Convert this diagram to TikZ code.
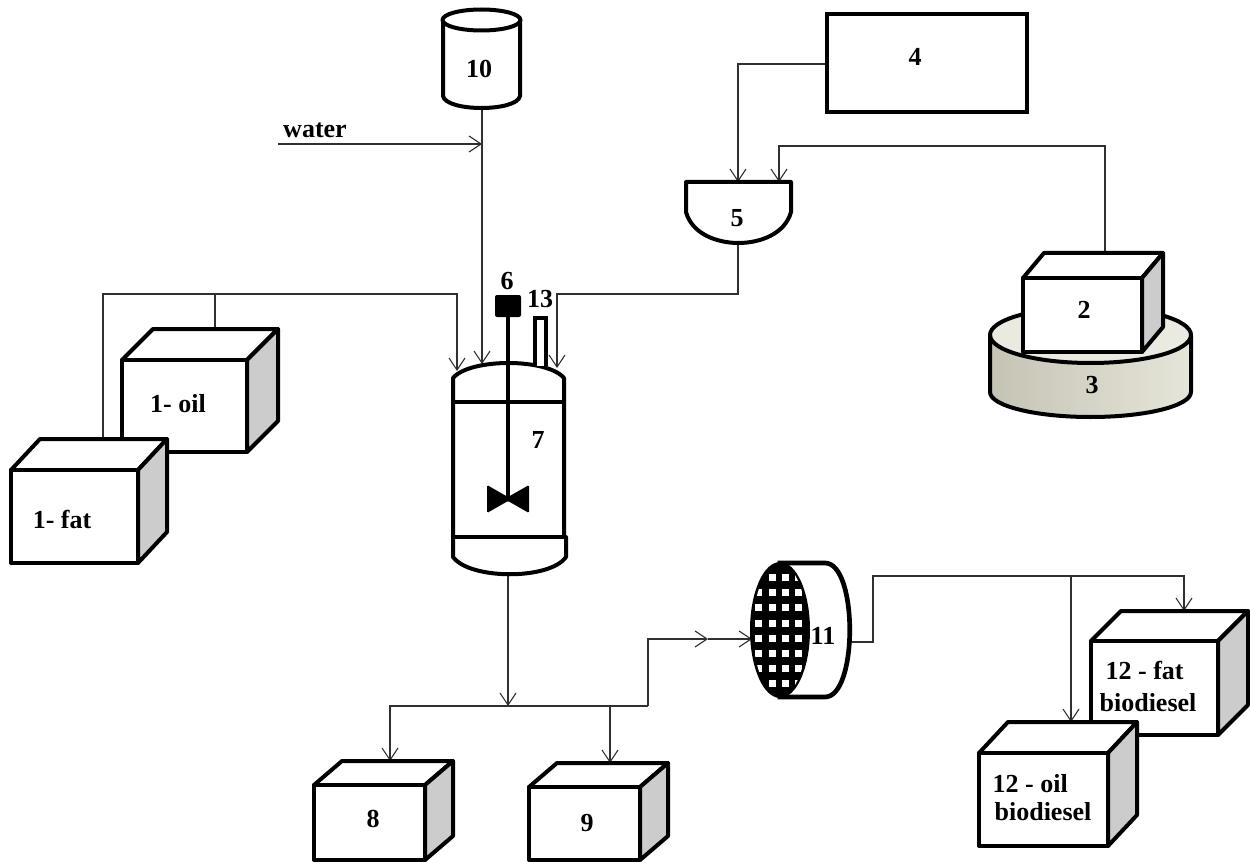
\documentclass[tikz,border=0pt]{standalone}
\usepackage{fontspec}
\setmainfont{Liberation Serif}
\usetikzlibrary{arrows.meta}
\definecolor{sidegray}{HTML}{CCCCCC}
\definecolor{diskA}{HTML}{C4C3B4}
\definecolor{diskB}{HTML}{E6E5D9}
\definecolor{wirecol}{HTML}{303030}
\tikzset{
  x=0.75pt,y=-0.75pt,
  heavy/.style={line width=3pt,line join=round,draw=black},
  wire/.style={line width=0.8pt,draw=wirecol},
  flow/.style={wire,-{Straight Barb[length=9pt,width=12pt,line width=0.8pt]}},
  lbl/.style={font=\bfseries\fontsize{19.5}{23}\selectfont,inner sep=0pt,align=center,text=black},
}
% #1 front x0, #2 front y0, #3 front x1, #4 front y1, #5 depth x, #6 depth y
\newcommand{\cuboid}[6]{%
  \filldraw[heavy,fill=white] (#1,#2) -- ({#1+#5},{#2-#6}) -- ({#3+#5},{#2-#6}) -- (#3,#2) -- cycle;
  \filldraw[heavy,fill=sidegray] (#3,#2) -- ({#3+#5},{#2-#6}) -- ({#3+#5},{#4-#6}) -- (#3,#4) -- cycle;
  \filldraw[heavy,fill=white] (#1,#2) rectangle (#3,#4);
}
\begin{document}
\begin{tikzpicture}
\useasboundingbox (0,0) rectangle (1250,863);
% ports
\coordinate (waterIn) at (278,144);
\coordinate (tenOut) at (482,105);
\coordinate (tenJoin) at (482,144);
\coordinate (reacA) at (457,371);
\coordinate (reacB) at (482,364);
\coordinate (reacC) at (557,368);
\coordinate (oilOut) at (215,329);
\coordinate (oilTop) at (215,294);
\coordinate (fatOut) at (103,439);
\coordinate (fatTop) at (103,294);
\coordinate (reacTop) at (457,294);
\coordinate (fiveOut) at (738,244);
\coordinate (fiveKnee) at (738,294);
\coordinate (cKnee) at (557,294);
\coordinate (fourOut) at (827,64);
\coordinate (fourKnee) at (738,64);
\coordinate (fiveInA) at (738,182);
\coordinate (twoOut) at (1105,253);
\coordinate (twoKnee) at (1105,146);
\coordinate (fiveKneeB) at (779,146);
\coordinate (fiveInB) at (779,182);
\coordinate (reacOut) at (508,574);
\coordinate (busMid) at (508,706);
\coordinate (busL) at (390,706);
\coordinate (eightIn) at (390,761);
\coordinate (busN) at (610,706);
\coordinate (nineIn) at (610,763);
\coordinate (busR) at (648,706);
\coordinate (busUp) at (648,639);
\coordinate (busArrow) at (708,639);
\coordinate (filtIn) at (752,639);
\coordinate (filtOut) at (848,642);
\coordinate (filtK) at (873,642);
\coordinate (filtT) at (873,576);
\coordinate (fatBioK) at (1184,576);
\coordinate (fatBioIn) at (1184,611);
\coordinate (oilBioK) at (1071,576);
\coordinate (oilBioIn) at (1071,722);
% connectors
\draw[flow] (waterIn) -- (tenJoin);
\draw[flow] (tenOut) -- (reacB);
\draw[wire] (oilOut) -- (oilTop);
\draw[flow] (fatOut) -- (fatTop) -- (reacTop) -- (reacA);
\draw[flow] (fiveOut) -- (fiveKnee) -- (cKnee) -- (reacC);
\draw[flow] (fourOut) -- (fourKnee) -- (fiveInA);
\draw[flow] (twoOut) -- (twoKnee) -- (fiveKneeB) -- (fiveInB);
\draw[flow] (reacOut) -- (busMid);
\draw[flow] (busR) -- (busL) -- (eightIn);
\draw[flow] (busN) -- (nineIn);
\draw[flow] (busR) -- (busUp) -- (busArrow);
\draw[flow] (busArrow) -- (filtIn);
\draw[flow] (filtOut) -- (filtK) -- (filtT) -- (fatBioK) -- (fatBioIn);
\draw[flow] (oilBioK) -- (oilBioIn);
% tank 10
\filldraw[heavy,fill=white] (443,20) -- (443,96) .. controls (446,112) and (517,112) .. (520,96) -- (520,20);
\draw[heavy,fill=white] (481.5,20) ellipse (39 and 10.5);
% box 4
\draw[heavy,line join=miter] (827,14) rectangle (1027,112);
% vessel 5
\filldraw[heavy,fill=white] (686,182) -- (791,182) -- (791,212) .. controls (785,234) and (760,243) .. (738.5,243) .. controls (717,243) and (692,234) .. (686,212) -- cycle;
% disk 3
\path[left color=diskA,right color=diskB] (990,335) -- (990,392) arc[start angle=180,end angle=0,x radius=100.5,y radius=25] -- (1191,335) arc[start angle=0,end angle=180,x radius=100.5,y radius=28] -- cycle;
\draw[heavy,fill=diskB!80!white] (1090.5,335) ellipse (100.5 and 28);
\draw[heavy] (990,335) -- (990,392) arc[start angle=180,end angle=0,x radius=100.5,y radius=25] -- (1191,335);
% boxes
\cuboid{1023}{278}{1142}{352}{21}{25}
\cuboid{122}{360}{247}{452}{31}{31}
\cuboid{11}{470}{138}{563}{29}{31}
\cuboid{314}{785}{425}{860}{28}{24}
\cuboid{529}{787}{640}{860}{28}{24}
\cuboid{1091}{641}{1218}{735}{30}{30}
\cuboid{979}{753}{1108}{846}{29}{31}
% reactor 7
\filldraw[heavy,fill=white] (453,402) -- (453,378) .. controls (470,358) and (547,358) .. (564,378) -- (564,402) -- (564,537) -- (566,537) -- (566,557) .. controls (550,580) and (470,580) .. (453,557) -- cycle;
\draw[heavy] (453,402) -- (564,402);
\draw[heavy] (453,537) -- (566,537);
\filldraw[line width=2.5pt,draw=black,fill=white] (535,366) -- (535,318) -- (546,318) -- (546,366);
\draw[line width=3pt] (508,317) -- (508,500);
\fill[black,rounded corners=1.5pt] (495,295) rectangle (521,317);
\fill[black,rounded corners=1pt] (487,485) -- (508,497) -- (529,485) -- (529,513) -- (508,501) -- (487,513) -- cycle;
% filter 11
\filldraw[line width=3.5pt,draw=black,fill=white] (780,563) -- (825,563) .. controls (858,563) and (858,697) .. (825,697) -- (780,697) -- cycle;
\fill[black] (780,630) ellipse (30 and 68);
\begin{scope}
  \clip (780,630) ellipse (27 and 66);
  \foreach \yy in {577,592,607,623,638,653,668,683}
    \foreach \xx in {758,772,785,798}
      \fill[white] (\xx-3.5,\yy-3.5) rectangle (\xx+3.5,\yy+3.5);
\end{scope}
% labels
\node[lbl] (lWater) at (315,130) {water};
\node[lbl] (l10) at (479,69) {10};
\node[lbl] (l4) at (915,57) {4};
\node[lbl] (l5) at (737,218) {5};
\node[lbl] (l6) at (507,281) {6};
\node[lbl] (l13) at (540,299) {13};
\node[lbl] (l7) at (538,440) {7};
\node[lbl] (l2) at (1084,310) {2};
\node[lbl] (l3) at (1092,385) {3};
\node[lbl] (lOil) at (178,404) {1- oil};
\node[lbl] (lFat) at (62,519) {1- fat};
\node[lbl] (l8) at (373,819) {8};
\node[lbl] (l9) at (587,823) {9};
\node[lbl] (l11) at (823,636) {11};
\node[lbl,align=left,font=\bfseries\fontsize{19.5}{24}\selectfont] (lFatBio) at (1148,686) {\hspace*{4.5pt}12 - fat\\biodiesel};
\node[lbl,align=left,font=\bfseries\fontsize{19.5}{21}\selectfont] (lOilBio) at (1042,798) {12 - oil\\\hspace*{1.5pt}biodiesel};
\end{tikzpicture}
\end{document}
